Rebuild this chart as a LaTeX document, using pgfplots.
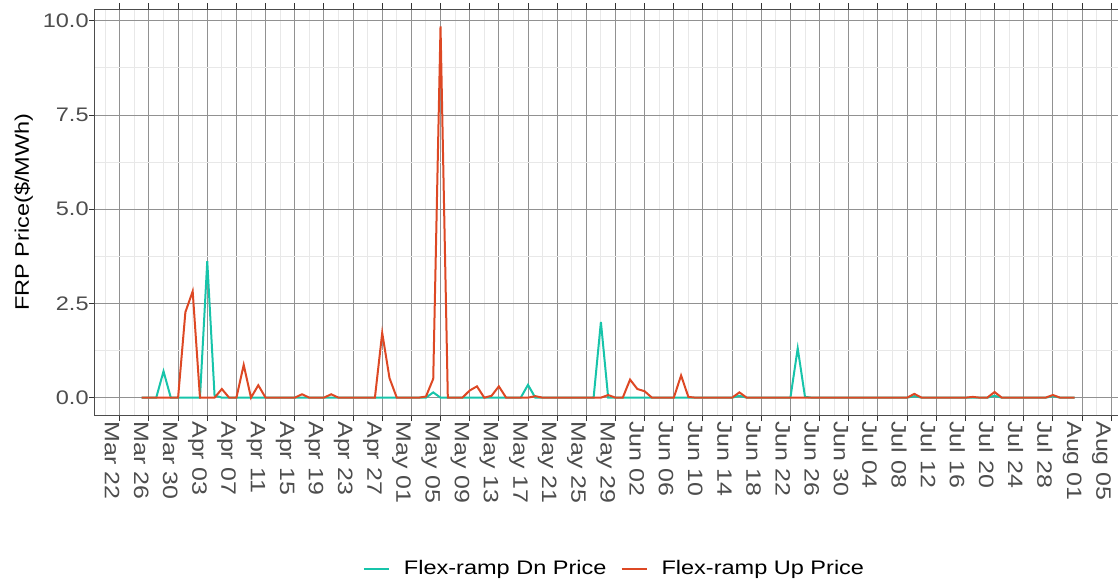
\documentclass[border=0pt]{standalone}
\usepackage{fontspec}
\setmainfont{Liberation Sans}[FakeStretch=1.2]
\usepackage{pgfplots}
\pgfplotsset{compat=1.18}
\usepackage{pgfplotstable}
\definecolor{dncol}{RGB}{23,196,170}
\definecolor{upcol}{RGB}{221,72,36}
\definecolor{tickgray}{RGB}{77,77,77}
\definecolor{majgrid}{RGB}{145,145,145}
\definecolor{mingrid}{RGB}{232,232,232}

\pgfplotstableread{
day dn up
3 0 0
4 0 0
5 0 0
6 0.70 0
7 0 0
8 0 0
9 0 2.27
10 0 2.82
11 0 0
12 3.62 0
13 0.06 0
14 0 0.23
15 0 0
16 0 0
17 0 0.87
18 0 0
19 0 0.33
20 0 0
21 0 0
22 0 0
23 0 0
24 0 0
25 0 0.09
26 0 0
27 0 0
28 0 0
29 0 0.09
30 0 0
31 0 0
32 0 0
33 0 0
34 0 0
35 0 0
36 0 1.72
37 0 0.52
38 0 0
39 0 0
40 0 0
41 0 0
42 0 0.03
43 0.14 0.50
44 0 9.85
45 0 0
46 0 0
47 0 0
48 0 0.19
49 0 0.30
50 0 0
51 0 0.05
52 0 0.30
53 0 0
54 0 0
55 0 0
56 0.34 0
57 0 0.04
58 0 0
59 0 0
60 0 0
61 0 0
62 0 0
63 0 0
64 0 0
65 0 0
66 2.01 0
67 0 0.07
68 0 0
69 0 0
70 0 0.48
71 0 0.23
72 0 0.17
73 0 0
74 0 0
75 0 0
76 0 0
77 0 0.59
78 0 0.02
79 0 0
80 0 0
81 0 0
82 0 0
83 0 0
84 0 0
85 0.05 0.14
86 0 0
87 0 0
88 0 0
89 0 0
90 0 0
91 0 0
92 0 0
93 1.31 0
94 0.02 0
95 0 0
96 0 0
97 0 0
98 0 0
99 0 0
100 0 0
101 0 0
102 0 0
103 0 0
104 0 0
105 0 0
106 0 0
107 0 0
108 0 0
109 0.04 0.10
110 0 0
111 0 0
112 0 0
113 0 0
114 0 0
115 0 0
116 0 0
117 0 0.02
118 0 0
119 0 0
120 0.05 0.15
121 0 0
122 0 0
123 0 0
124 0 0
125 0 0
126 0 0
127 0 0
128 0.04 0.07
129 0 0
130 0 0
131 0 0
}\frp

\begin{document}
\begin{tikzpicture}
\begin{axis}[
  at={(0,0)}, anchor=south west,
  scale only axis, width=513pt, height=202.75pt,
  xmin=-3.4, xmax=137.35, ymin=-0.46, ymax=10.30,
  xtick={0,4,...,136},
  xticklabels={Mar 22,Mar 26,Mar 30,Apr 03,Apr 07,Apr 11,Apr 15,Apr 19,Apr 23,Apr 27,May 01,May 05,May 09,May 13,May 17,May 21,May 25,May 29,Jun 02,Jun 06,Jun 10,Jun 14,Jun 18,Jun 22,Jun 26,Jun 30,Jul 04,Jul 08,Jul 12,Jul 16,Jul 20,Jul 24,Jul 28,Aug 01,Aug 05},
  minor xtick={-2,2,...,138},
  ytick={0,2.5,5,7.5,10},
  yticklabels={0.0,2.5,5.0,7.5,10.0},
  minor ytick={1.25,3.75,6.25,8.75},
  grid=both,
  major grid style={color=majgrid, line width=0.5pt},
  minor grid style={color=mingrid, line width=0.45pt},
  tick align=outside,
  major tick length=3pt, minor tick length=0pt,
  tick style={color=black!80, line width=0.5pt},
  axis line style={color=black!70, line width=0.5pt},
  tick label style={font=\fontsize{9.8}{11}\selectfont, text=tickgray},
  xticklabel style={font=\fontsize{10.4}{12}\selectfont, rotate=-90, anchor=north west, inner sep=0pt},
  yticklabel style={anchor=east, inner sep=0pt},
  ylabel={FRP Price(\$/MWh)},
  ylabel style={font=\fontsize{9.8}{11}\selectfont, at={(axis description cs:-0.0695,0.5)}, anchor=center},
  legend columns=2,
  legend style={at={(axis description cs:0.5054,-0.3798)}, anchor=center, draw=none, fill=none,
    font=\fontsize{9.8}{11}\selectfont, column sep=7pt, nodes={inner sep=0pt}},
  legend image code/.code={\draw[#1] (0pt,0pt) -- (12.5pt,0pt);},
]
\addplot[color=dncol, line width=1pt] table[x=day, y=dn] {\frp};
\addlegendentry{Flex-ramp Dn Price}
\addplot[color=upcol, line width=1pt] table[x=day, y=up] {\frp};
\addlegendentry{Flex-ramp Up Price}
\end{axis}
\pgfresetboundingbox
\path (-47.5pt,-84.5pt) rectangle (511.5pt,207.5pt);
\end{tikzpicture}
\end{document}
